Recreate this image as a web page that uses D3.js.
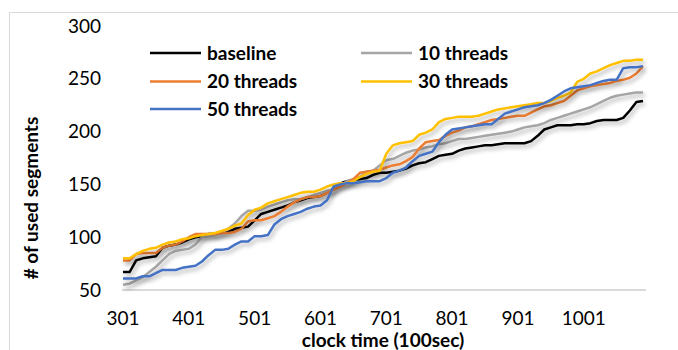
<!DOCTYPE html>
<html>
<head>
<meta charset="utf-8">
<script src="https://cdn.jsdelivr.net/npm/d3@7"></script>
<style>
  body { margin: 0; background: #fff; }
  svg { display: block; font-family: Lato, "Open Sans", sans-serif; }
</style>
</head>
<body>
<svg id="chart"></svg>
<script>
const svgWidth = 678;
const svgHeight = 350;

// clock time categories (x axis)
const clockTimes = [301, 311, 321, 331, 341, 351, 361, 371, 381, 391,
  401, 411, 421, 431, 441, 451, 461, 471, 481, 491,
  501, 511, 521, 531, 541, 551, 561, 571, 581, 591,
  601, 611, 621, 631, 641, 651, 661, 671, 681, 691,
  701, 711, 721, 731, 741, 751, 761, 771, 781, 791,
  801, 811, 821, 831, 841, 851, 861, 871, 881, 891,
  901, 911, 921, 931, 941, 951, 961, 971, 981, 991,
  1001, 1011, 1021, 1031, 1041, 1051, 1061, 1071, 1081, 1091];
const xTickLabels = [301, 401, 501, 601, 701, 801, 901, 1001];
const yTickLabels = [50, 100, 150, 200, 250, 300];

const baseline = [67, 67, 78, 80, 81, 82, 90, 92, 93, 95,
  98, 100, 101, 103, 103, 104, 105, 108, 109, 110,
  116, 122, 124, 126, 128, 130, 133, 135, 137, 138,
  139, 142, 146, 151, 153, 154, 155, 156, 159, 161,
  161, 162, 163, 165, 168, 170, 171, 174, 177, 178,
  179, 182, 184, 185, 186, 187, 187, 188, 189, 189,
  189, 189, 191, 196, 202, 204, 206, 206, 206, 207,
  207, 208, 210, 211, 211, 211, 213, 220, 228, 229];
const threads10 = [55, 56, 59, 62, 67, 72, 78, 84, 87, 88,
  89, 93, 100, 101, 102, 104, 108, 113, 120, 125,
  125, 126, 129, 131, 133, 135, 136, 136, 138, 140,
  142, 144, 145, 149, 153, 155, 157, 162, 163, 168,
  173, 174, 177, 180, 182, 183, 185, 186, 188, 189,
  191, 193, 193, 194, 195, 196, 197, 198, 199, 200,
  202, 204, 205, 206, 208, 211, 213, 215, 217, 219,
  221, 223, 226, 229, 232, 234, 235, 236, 237, 237];
const threads20 = [78, 78, 84, 85, 85, 85, 90, 92, 93, 96,
  100, 103, 103, 103, 103, 104, 104, 105, 108, 115,
  116, 116, 118, 120, 124, 129, 133, 136, 138, 138,
  139, 142, 145, 148, 151, 155, 161, 162, 163, 164,
  166, 168, 169, 172, 176, 184, 190, 191, 192, 196,
  199, 201, 204, 205, 207, 209, 211, 212, 213, 214,
  215, 215, 218, 221, 224, 225, 227, 229, 234, 239,
  241, 243, 244, 245, 246, 248, 249, 251, 255, 262];
const threads30 = [80, 80, 84, 87, 89, 90, 93, 95, 96, 98,
  99, 101, 102, 103, 104, 106, 108, 111, 113, 121,
  126, 128, 132, 134, 136, 138, 140, 142, 143, 143,
  145, 148, 150, 151, 151, 153, 157, 160, 162, 163,
  179, 187, 189, 190, 191, 197, 199, 202, 209, 212,
  213, 214, 214, 214, 215, 217, 219, 221, 222, 223,
  224, 225, 226, 227, 227, 229, 232, 234, 237, 247,
  250, 255, 257, 260, 263, 265, 267, 267, 268, 268];
const threads50 = [61, 61, 61, 63, 63, 66, 69, 69, 69, 71,
  72, 73, 77, 83, 88, 88, 89, 93, 96, 96,
  101, 101, 102, 112, 117, 120, 122, 124, 127, 129,
  130, 135, 148, 150, 151, 151, 152, 153, 153, 153,
  156, 161, 163, 166, 172, 177, 179, 181, 190, 197,
  202, 203, 204, 205, 206, 207, 207, 212, 217, 219,
  221, 223, 224, 225, 227, 230, 234, 238, 241, 242,
  243, 244, 246, 248, 249, 249, 260, 261, 261, 262];

const seriesNames = ["baseline", "10 threads", "20 threads", "30 threads", "50 threads"];
const seriesValues = [baseline, threads10, threads20, threads30, threads50];
const seriesColors = ["#000000", "#a5a5a5", "#ed7d31", "#ffc000", "#4472c4"];

const svg = d3.select("#chart")
  .attr("width", svgWidth)
  .attr("height", svgHeight);

// chart border
svg.append("rect")
  .attr("x", 9.5).attr("y", 12.5)
  .attr("width", 720).attr("height", 400)
  .attr("fill", "none")
  .attr("stroke", "#d9d9d9")
  .attr("stroke-width", 1);

// shadow like the excel one (user space so flat legend lines get it too)
const defs = svg.append("defs");
defs.append("filter")
  .attr("id", "shadow")
  .attr("filterUnits", "userSpaceOnUse")
  .attr("x", 0).attr("y", 0)
  .attr("width", svgWidth).attr("height", svgHeight)
  .append("feDropShadow")
  .attr("dx", 2).attr("dy", 3)
  .attr("stdDeviation", 2)
  .attr("flood-color", "#000")
  .attr("flood-opacity", 0.3);

const xScale = d3.scaleLinear()
  .domain([301, 1091])
  .range([123, 643]);
const yScale = d3.scaleLinear()
  .domain([50, 300])
  .range([290, 26]);

// x axis line
svg.append("line")
  .attr("x1", 122).attr("x2", 646)
  .attr("y1", yScale(50)).attr("y2", yScale(50))
  .attr("stroke", "#d9d9d9")
  .attr("stroke-width", 2);

// tick labels
svg.append("g")
  .selectAll("text")
  .data(yTickLabels)
  .enter()
  .append("text")
  .text(d => d)
  .attr("x", 101)
  .attr("y", d => yScale(d))
  .attr("dy", "0.35em")
  .attr("text-anchor", "end")
  .attr("font-size", "19px")
  .attr("fill", "#000");

svg.append("g")
  .selectAll("text")
  .data(xTickLabels)
  .enter()
  .append("text")
  .text(d => d)
  .attr("x", d => xScale(d))
  .attr("y", 318)
  .attr("dy", "0.35em")
  .attr("text-anchor", "middle")
  .attr("font-size", "19px")
  .attr("fill", "#000");

// axis titles
svg.append("text")
  .text("clock time (100sec)")
  .attr("x", 383)
  .attr("y", 340)
  .attr("dy", "0.35em")
  .attr("text-anchor", "middle")
  .attr("font-size", "19px")
  .attr("font-weight", "bold");

svg.append("text")
  .text("# of used segments")
  .attr("transform", "rotate(-90)")
  .attr("x", -198)
  .attr("y", 31)
  .attr("dy", "0.35em")
  .attr("text-anchor", "middle")
  .attr("font-size", "19px")
  .attr("font-weight", "bold");

// lines
const line = d3.line()
  .x((d, i) => xScale(clockTimes[i]))
  .y(d => yScale(d));

svg.append("g")
  .selectAll("path")
  .data(seriesValues)
  .enter()
  .append("path")
  .attr("d", d => line(d))
  .attr("fill", "none")
  .attr("stroke", (d, i) => seriesColors[i])
  .attr("stroke-width", 2.5)
  .attr("stroke-linejoin", "round")
  .attr("filter", "url(#shadow)");

// legend, two columns
const legendX = [150, 361];
const legendY = [53, 81.5, 109];
const legend = svg.append("g")
  .selectAll("g")
  .data(seriesNames)
  .enter()
  .append("g")
  .attr("transform", (d, i) => `translate(${legendX[i % 2]}, ${legendY[Math.floor(i / 2)]})`);

legend.append("line")
  .attr("x1", 0).attr("x2", 51)
  .attr("y1", 0).attr("y2", 0)
  .attr("stroke", (d, i) => seriesColors[i])
  .attr("stroke-width", 2.5);

legend.append("text")
  .text(d => d)
  .attr("x", 57)
  .attr("dy", "0.35em")
  .attr("font-size", "19px")
  .attr("font-weight", "bold");
</script>
</body>
</html>
